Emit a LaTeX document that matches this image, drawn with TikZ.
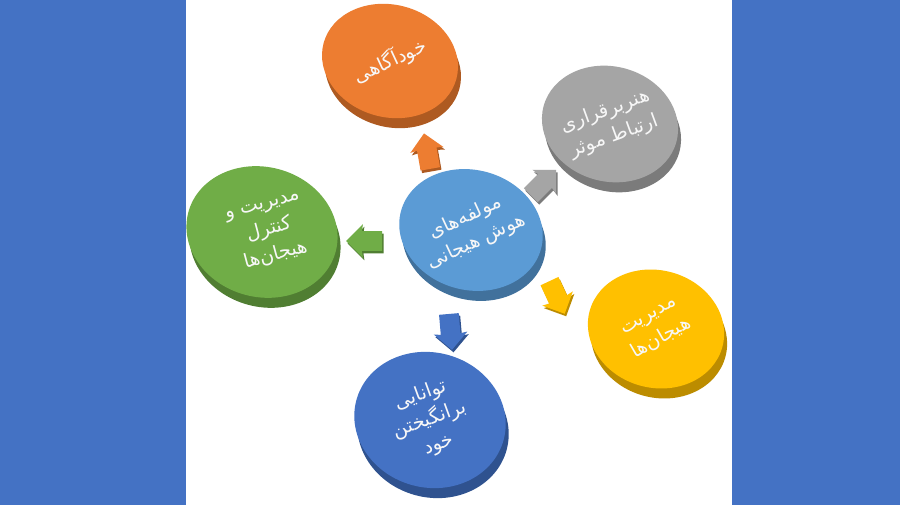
\documentclass[tikz,border=0pt]{standalone}
\usepackage{fontspec}
\usetikzlibrary{shapes.geometric, shapes.arrows, shadows}
\newfontfamily\farsifont[Script=Arabic]{DejaVu Sans}
\TeXXeTstate=1
\newcommand{\fa}[1]{\beginR #1\endR}

\definecolor{barblue}{HTML}{4472C4}
\definecolor{coreface}{HTML}{5B9BD5}
\definecolor{coreside}{HTML}{41719C}
\definecolor{awareface}{HTML}{ED7D31}
\definecolor{awareside}{HTML}{AE5A21}
\definecolor{commface}{HTML}{A5A5A5}
\definecolor{commside}{HTML}{7B7B7B}
\definecolor{controlface}{HTML}{70AD47}
\definecolor{controlside}{HTML}{507E32}
\definecolor{manageface}{HTML}{FFC000}
\definecolor{manageside}{HTML}{BC8C00}
\definecolor{motivface}{HTML}{4472C4}
\definecolor{motivside}{HTML}{2F528F}

\begin{document}
\begin{tikzpicture} [disc/.style={ellipse,
            inner sep=0pt,
            rotate=-15,
            general shadow={fill=#1,
            shadow xshift=0.06cm,
            shadow yshift=-0.2cm}},
        disctext/.style={align=center,
            text=white!94!gray,
            font=\farsifont\fontsize{11}{15}\selectfont},
        blockarrow/.style={single arrow,
            inner xsep=0pt,
            inner ysep=0.19cm,
            minimum height=0.72cm,
            single arrow head extend=0.14cm,
            single arrow head indent=0.02cm,
            general shadow={fill=#1,
            shadow xshift=0.03cm,
            shadow yshift=-0.05cm}}]

        % Page and side bars
        \useasboundingbox (0,0) rectangle (18,10.1);
        \fill [white] (0,0) rectangle (18,10.1);
        \fill [barblue] (0,0) rectangle (3.72,10.1);
        \fill [barblue] (14.64,0) rectangle (18,10.1);

        % Core
        \node (core) [disc=coreside, fill=coreface,
            minimum width=2.9cm, minimum height=2.4cm] at (9.42,5.5) {};
        \node (coretext) [disctext, rotate=25] at (core)
            {\fa{مولفه^^^^200cهای}\\ \fa{هوش هیجانی}};

        % Self awareness
        \node (aware) [disc=awareside, fill=awareface,
            minimum width=2.75cm, minimum height=2.25cm] at (7.8,8.88) {};
        \node (awaretext) [disctext, rotate=25] at (aware)
            {\fa{خودآگاهی}};

        % Communication
        \node (comm) [disc=commside, fill=commface,
            minimum width=2.75cm, minimum height=2.3cm] at (12.2,7.62) {};
        \node (commtext) [disctext, rotate=20] at (comm)
            {\fa{هنربرقراری}\\ \fa{ارتباط موثر}};

        % Control
        \node (control) [disc=controlside, fill=controlface,
            minimum width=3.05cm, minimum height=2.6cm] at (5.24,5.46) {};
        \node (controltext) [disctext, rotate=15] at ([xshift=0.15cm]control)
            {\fa{مدیریت و}\\ \fa{کنترل}\\ \fa{هیجان^^^^200cها}};

        % Managing
        \node (manage) [disc=manageside, fill=manageface,
            minimum width=2.75cm, minimum height=2.35cm] at (13.12,3.52) {};
        \node (managetext) [disctext, rotate=30] at (manage)
            {\fa{مدیریت}\\ \fa{هیجان^^^^200cها}};

        % Motivation
        \node (motiv) [disc=motivside, fill=motivface,
            minimum width=3.05cm, minimum height=2.7cm] at (8.6,1.7) {};
        \node (motivtext) [disctext, rotate=20] at (motiv)
            {\fa{توانایی}\\ \fa{برانگیختن}\\ \fa{خود}};

        % Arrows
        \node (toaware) [blockarrow=awareside, fill=awareface,
            rotate=100] at (8.56,6.98) {};
        \node (tocomm) [blockarrow=commside, fill=commface,
            rotate=45] at (10.8,6.38) {};
        \node (tocontrol) [blockarrow=controlside, fill=controlface,
            rotate=180] at (7.38,5.28) {};
        \node (tomanage) [blockarrow=manageside, fill=manageface,
            rotate=-65] at (11.1,4.24) {};
        \node (tomotiv) [blockarrow=motivside, fill=motivface,
            rotate=-85] at (9.0,3.56) {};
\end{tikzpicture}
\end{document}
